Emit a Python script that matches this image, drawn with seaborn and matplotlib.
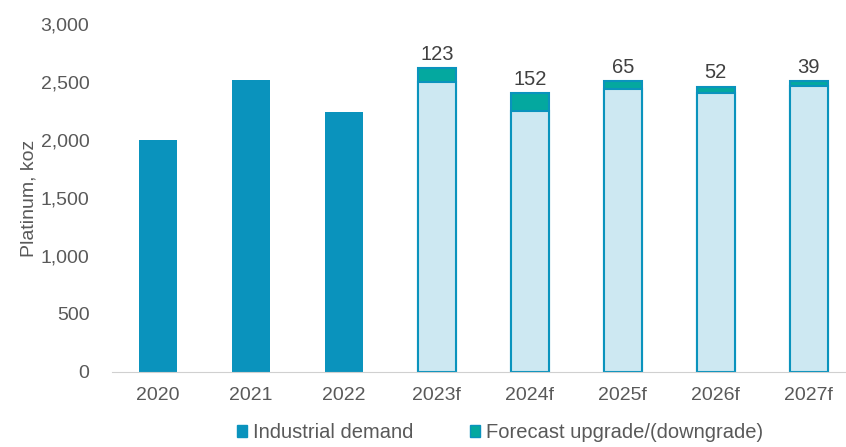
import pandas as pd
import seaborn as sns
import matplotlib.pyplot as plt
from matplotlib.patches import Patch

sns.set_style("white")
plt.rcParams['font.family'] = ['Liberation Sans', 'DejaVu Sans']

years = ["2020", "2021", "2022", "2023f", "2024f", "2025f", "2026f", "2027f"]
industrial = [2000, 2520, 2240, 2497, 2250, 2443, 2405, 2469]
upgrade = [0, 0, 0, 123, 152, 65, 52, 39]
forecast = [False, False, False, True, True, True, True, True]

dark_blue = "#0a93bd"
light_blue = "#cde8f2"
teal = "#04a89f"
grey = "#595959"

df = pd.DataFrame({"year": years, "industrial": industrial, "upgrade": upgrade})
df["total"] = df["industrial"] + df["upgrade"]

fig, ax = plt.subplots(figsize=(8.46, 4.47), dpi=100)
fig.subplots_adjust(left=0.132, right=1.003, bottom=0.168, top=0.946)

# totals first (teal top), then industrial over them
sns.barplot(data=df, x="year", y="total", color=teal, width=0.41, saturation=1,
            edgecolor=dark_blue, linewidth=1.5, ax=ax)
n = len(ax.patches)
sns.barplot(data=df, x="year", y="industrial", color=dark_blue, width=0.41,
            saturation=1, edgecolor=dark_blue, linewidth=1.5, ax=ax)

for i, p in enumerate(ax.patches[n:]):
    if forecast[i]:
        p.set_facecolor(light_blue)
    else:
        p.set_linewidth(0)
for i, p in enumerate(ax.patches[:n]):
    if not forecast[i]:
        p.set_visible(False)

for i, (t, u) in enumerate(zip(df["total"], upgrade)):
    if forecast[i]:
        ax.text(i, t + 40, str(u), ha="center", va="bottom",
                fontsize=14.5, color="#404040")

ax.set_ylim(0, 3000)
ax.set_xlim(-0.5, 7.43)
ax.set_yticks(range(0, 3001, 500))
ax.set_yticklabels([f"{v:,}" for v in range(0, 3001, 500)])
ax.tick_params(axis="both", labelsize=14, colors=grey, length=0)
ax.tick_params(axis="y", pad=16)
ax.tick_params(axis="x", pad=11)
ax.set_xlabel("")
ax.set_ylabel("Platinum, koz", fontsize=14, color=grey, labelpad=2)
for s in ["top", "right", "left"]:
    ax.spines[s].set_visible(False)
ax.spines["bottom"].set_color("#d0d0d0")

handles = [Patch(facecolor=dark_blue, edgecolor=dark_blue),
           Patch(facecolor=teal, edgecolor=dark_blue)]
ax.legend(handles, ["Industrial demand", "Forecast upgrade/(downgrade)"],
          loc="upper center", bbox_to_anchor=(0.527, -0.095), ncol=2,
          frameon=False, fontsize=14.5, handlelength=0.5, handleheight=0.5,
          handletextpad=0.3, columnspacing=2.8, labelcolor=grey)

fig.savefig("out.png", dpi=100)
